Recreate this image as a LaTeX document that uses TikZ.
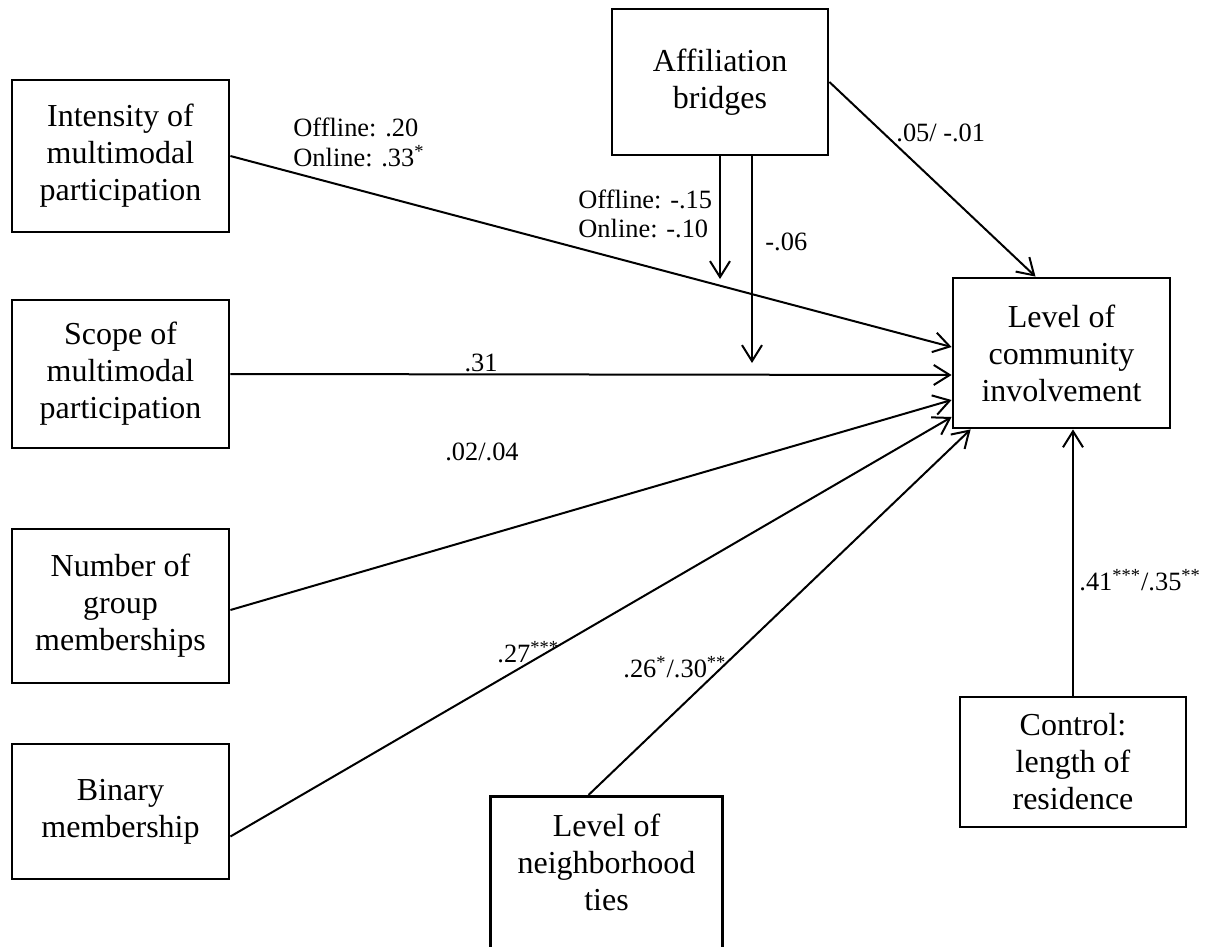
\documentclass[tikz,border=0pt]{standalone}
\usepackage{fontspec}
\setmainfont{Liberation Serif}
\usetikzlibrary{arrows.meta}

\begin{document}
\begin{tikzpicture}
[x=0.5pt,y=-0.5pt,%
  box/.style={draw,line width=1.4pt,align=center,inner sep=1pt,%
    font=\fontsize{16}{18.5}\selectfont},%
  coef/.style={inner sep=0pt,align=left,font=\fontsize{13.2}{14.5}\selectfont},%
  link/.style={-{Straight Barb[length=8pt,width=10pt]},line width=1pt}]
\useasboundingbox (0,0) rectangle (1210,947);
%% predictors on the left
\node[box,minimum width=108.5pt,minimum height=76pt] (int) at (120.5,156) {Intensity of\\multimodal\\participation};
\node[box,minimum width=108.5pt,minimum height=74pt] (sco) at (120.5,374) {Scope of\\multimodal\\participation};
\node[box,minimum width=108.5pt,minimum height=77pt] (num) at (120.5,606) {Number of\\group\\memberships};
\node[box,minimum width=108.5pt,minimum height=67.5pt] (bin) at (120.5,811.5) {Binary\\membership};
%% moderator, outcome and controls
\node[box,minimum width=108pt,minimum height=73pt] (aff) at (720,82) {Affiliation\\bridges};
\node[box,minimum width=108.5pt,minimum height=75pt] (tgt) at (1061.5,353) {Level of\\community\\involvement};
\node[box,minimum width=113pt,minimum height=65pt] (ctl) at (1073,762) {Control:\\length of\\residence};
\node[box,anchor=north] (nbh) at (606.5,795)
  {\parbox[c][110pt][t]{114pt}{\centering\vspace*{8pt}Level of\\neighborhood\\ties}};
%% paths
\draw[link] (int.east) -- ([yshift=3pt]tgt.west);
\draw[link] (sco.east) -- ([yshift=-11pt]tgt.west);
\draw[link] ([yshift=-2pt]num.east) -- ([yshift=-23.5pt]tgt.west);
\draw[link] ([yshift=-12.5pt]bin.east) -- ([yshift=-32pt]tgt.west);
\draw[link] ([xshift=-9pt]nbh.north) -- ([xshift=9.5pt]tgt.south west);
\draw[link] (aff.east) -- ([xshift=-13pt]tgt.north);
\draw[link] (ctl.north) -- (ctl.north |- tgt.south);
\coordinate (m1) at (720,279);
\coordinate (m2) at (752,363);
\draw[link] (aff.south) -- (m1);
\draw[link] ([xshift=16pt]aff.south) -- (m2);
%% coefficients
\node[coef,anchor=base west] (lint) at (293,166) {Offline: .20\\Online: .33\textsuperscript{*}};
\node[coef,anchor=base west] (laf1) at (578,237) {Offline: -.15\\Online: -.10};
\node[coef,anchor=base west] (laf2) at (765,250) {-.06};
\node[coef,anchor=base west] (laft) at (896,141) {.05/ -.01};
\node[coef,anchor=base] (lsco) at (481,371) {.31};
\node[coef,anchor=base] (lnum) at (482,460) {.02/.04};
\node[coef,anchor=base west] (lbin) at (497,662) {.27\textsuperscript{***}};
\node[coef,anchor=base west] (lnbh) at (623,677) {.26\textsuperscript{*}/.30\textsuperscript{**}};
\node[coef,anchor=base west] (lctl) at (1079,590) {.41\textsuperscript{***}/.35\textsuperscript{**}};
\end{tikzpicture}
\end{document}
